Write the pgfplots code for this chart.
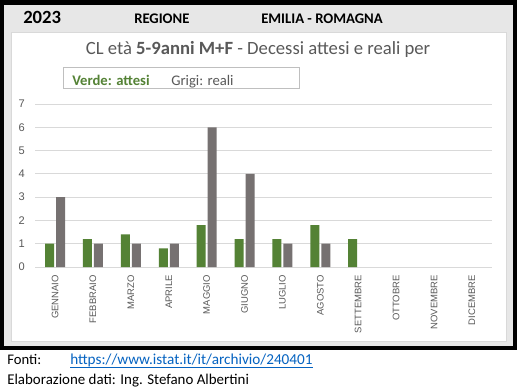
\documentclass[border=0pt]{standalone}
\usepackage{pgfplots}
\pgfplotsset{compat=1.18}
\usepackage{fontspec}
\setmainfont{Carlito}
\newfontfamily\arial{Liberation Sans}
\definecolor{verde}{HTML}{548235}
\definecolor{grigio}{HTML}{767171}
\definecolor{txt}{HTML}{595959}
\definecolor{gridc}{HTML}{D9D9D9}
\definecolor{boxc}{HTML}{BFBFBF}
\definecolor{bgc}{HTML}{E7E7E7}
\definecolor{linkc}{HTML}{0563C1}
\begin{document}
\begin{tikzpicture}[x=0.75pt,y=-0.75pt]
\fill[white] (0,0) rectangle (520,389);
\fill[bgc] (2,2.5) rectangle (514.5,347.5);
\draw[black,line width=3pt] (2,2.5) rectangle (514.5,347.5);
\fill[white] (11,32) rectangle (506,341);
\draw[gridc,line width=0.75pt] (11,32) rectangle (506,341);
% header
\node[anchor=base west,inner sep=0pt,font=\fontsize{14}{16}\selectfont\bfseries] at (23,23) {2023};
\node[anchor=base west,inner sep=0pt,font=\fontsize{11}{13}\selectfont\bfseries] at (134,23) {REGIONE};
\node[anchor=base west,inner sep=0pt,font=\fontsize{11}{13}\selectfont\bfseries] at (261,23) {EMILIA - ROMAGNA};
% title
\node[anchor=base,inner sep=0pt,text=txt,font=\fontsize{14}{16}\selectfont] at (258,54) {CL età \textbf{5-9anni M+F} - Decessi attesi e reali per};
% legend box
\draw[boxc,line width=0.75pt] (63,67) rectangle (299,88);
\node[anchor=base west,inner sep=0pt,text=verde,font=\fontsize{11}{13}\selectfont\bfseries] at (72,85) {Verde: attesi};
\node[anchor=base west,inner sep=0pt,text=txt,font=\fontsize{11}{13}\selectfont] at (171,85) {Grigi: reali};
% footer
\node[anchor=base west,inner sep=0pt,font=\fontsize{11}{13}\selectfont] at (7,364.5) {Fonti:};
\node[anchor=base west,inner sep=0pt,text=linkc,font=\fontsize{11.4}{13}\selectfont] at (70,364.5) {https://www.istat.it/it/archivio/240401};
\draw[linkc,line width=0.6pt] (70,367.5) -- (313,367.5);
\node[anchor=base west,inner sep=0pt,font=\fontsize{11.2}{13}\selectfont] at (7,384.5) {Elaborazione dati: Ing. Stefano Albertini};
\coordinate (O) at (35,267);
\begin{axis}[
  at={(O)}, anchor=south west,
  scale only axis,
  width=342.75pt, height=122.25pt,
  xmin=-0.53, xmax=11.53, ymin=0, ymax=7,
  ybar, bar width=6.75pt,
  axis line style={draw=none},
  major tick length=0pt,
  ymajorgrids, grid style={gridc,line width=0.75pt},
  ytick={0,1,2,3,4,5,6,7},
  xtick={0,1,2,3,4,5,6,7,8,9,10,11},
  xticklabels={GENNAIO,FEBBRAIO,MARZO,APRILE,MAGGIO,GIUGNO,LUGLIO,AGOSTO,SETTEMBRE,OTTOBRE,NOVEMBRE,DICEMBRE},
  xticklabel style={rotate=90,anchor=east,inner sep=0pt,text=txt,font=\arial\fontsize{7.1}{8}\selectfont},
  xticklabel shift=6pt,
  /pgf/number format/assume math mode=true,
  yticklabel style={anchor=east,inner sep=0pt,text=txt,font=\arial\fontsize{8.3}{9}\selectfont},
  yticklabel shift=7.5pt,
  clip=false,
]
\addplot[draw=none,fill=verde,bar shift=-4.125pt] coordinates {(0,1) (1,1.2) (2,1.4) (3,0.8) (4,1.8) (5,1.2) (6,1.2) (7,1.8) (8,1.2)};
\addplot[draw=none,fill=grigio,bar shift=4.125pt] coordinates {(0,3) (1,1) (2,1) (3,1) (4,6) (5,4) (6,1) (7,1)};
\end{axis}
\end{tikzpicture}
\end{document}
